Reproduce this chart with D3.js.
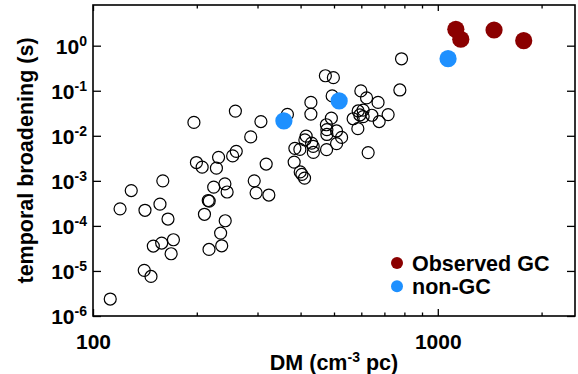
<!DOCTYPE html>
<html><head><meta charset="utf-8">
<script src="https://cdn.jsdelivr.net/npm/d3@7"></script>
<style>
body{margin:0;background:#fff}
svg text{font-family:"Liberation Sans",Arial,Helvetica,sans-serif;font-weight:bold;fill:#000}
</style>
</head><body>
<svg id="chart" width="578" height="374"></svg>
<script>
// ---- data ----
const pulsarDM = [112.2,140.8,147.3,149.6,158.2,171.1,168.5,165.0,156.4,141.5,119.8,129.1,159.4,199.5,207.3,231.3,228.0,254.1,260.3,223.9,241.3,244.9,215.9,217.3,210.5,241.8,234.5,236.2,217.0,293.5,297.2,323.6,317.9,286.7,196.2,258.8,306.9,366.3,385.0,398.1,415.2,411.6,430.5,435.1,435.6,383.2,399.0,403.5,410.7,428.5,428.5,472.0,497.9,493.9,491.3,475.2,476.8,476.8,508.6,526.0,508.6,475.8,598.2,621.4,671.0,717.7,676.0,643.8,587.5,607.4,594.1,568.2,607.4,586.3,628.1,776.2,784.9];
const pulsarTau = [2.38e-6,1.03e-5,7.55e-6,3.57e-5,4.16e-5,4.92e-5,2.41e-5,1.42e-4,3.04e-4,2.22e-4,2.39e-4,6.09e-4,1.0e-3,2.55e-3,2.01e-3,3.32e-3,1.91e-3,3.58e-3,4.51e-3,7.25e-4,8.58e-4,5.65e-4,3.66e-4,3.55e-4,1.81e-4,1.30e-4,6.92e-5,3.62e-5,3.0e-5,1.0e-3,5.42e-4,4.84e-4,2.36e-3,9.46e-3,1.98e-2,3.53e-2,2.07e-2,2.98e-2,5.26e-3,4.99e-3,9.8e-3,8.11e-3,6.85e-3,5.82e-3,4.28e-3,2.61e-3,1.58e-3,1.39e-3,1.15e-3,5.5e-2,3.03e-2,0.215,0.195,7.67e-2,2.46e-2,1.76e-2,1.37e-2,1.07e-2,1.28e-2,9.22e-3,6.68e-3,4.92e-3,9.9e-2,6.92e-2,5.5e-2,2.95e-2,2.07e-2,2.86e-2,3.56e-2,3.7e-2,2.9e-2,2.39e-2,2.67e-2,1.44e-2,4.24e-3,0.104,0.512];
const nonGcDM = [357.8,517.5,1071];
const nonGcTau = [2.14e-2,5.94e-2,0.515];
const gcDM = [1128,1166,1456,1775];
const gcTau = [2.31,1.39,2.23,1.29];
const xMajorTicks = [100,1000];
const xMinorTicks = [200,300,400,500,600,700,800,900,2000];
const yTicks = [1e-6,1e-5,1e-4,1e-3,1e-2,1e-1,1];
const yExponents = ["-6","-5","-4","-3","-2","-1","0"];
const legendLabels = ["Observed GC","non-GC"];
const legendColors = ["#8b0000","#1e90ff"];
const xTitle = "DM (cm";
const xTitleSup = "-3";
const xTitleEnd = " pc)";
const yTitle = "temporal broadening (s)";

// ---- layout ----
const L = 93, R = 575, T = 5, B = 316;
const svg = d3.select("#chart");
const x = d3.scaleLog().domain([100,2500]).range([L,R]);
const y = d3.scaleLog().domain([1e-6,8]).range([B,T]);

function styleAxis(g){
  g.select(".domain").remove();
  g.selectAll(".tick line").attr("stroke","#000").attr("stroke-width",1.3);
}
// x axes (ticks pointing inward)
svg.append("g").attr("transform",`translate(0,${B})`)
  .call(d3.axisBottom(x).tickValues(xMajorTicks).tickSize(-7).tickPadding(18).tickFormat(d3.format("d")))
  .call(styleAxis)
  .call(g=>g.selectAll("text").style("font-size","21px").attr("dy","0.71em"));
svg.append("g").attr("transform",`translate(0,${B})`)
  .call(d3.axisBottom(x).tickValues(xMinorTicks).tickSize(-3.5).tickFormat(""))
  .call(styleAxis);
svg.append("g").attr("transform",`translate(0,${T})`)
  .call(d3.axisTop(x).tickValues(xMajorTicks).tickSize(-6).tickFormat(""))
  .call(styleAxis);
svg.append("g").attr("transform",`translate(0,${T})`)
  .call(d3.axisTop(x).tickValues(xMinorTicks).tickSize(-3.5).tickFormat(""))
  .call(styleAxis);
// y axes
const yl = svg.append("g").attr("transform",`translate(${L},0)`)
  .call(d3.axisLeft(y).tickValues(yTicks).tickSize(-8).tickPadding(6).tickFormat(""))
  .call(styleAxis);
yl.selectAll(".tick text").each(function(d,i){
  const t = d3.select(this).attr("dy",null).attr("dominant-baseline",null)
    .attr("x",-6).attr("y",7.5).attr("text-anchor","end").style("font-size","21px");
  t.text(null);
  t.append("tspan").text("10");
  t.append("tspan").attr("dy",-8).style("font-size","14px").text(yExponents[i]);
});
svg.append("g").attr("transform",`translate(${R},0)`)
  .call(d3.axisRight(y).tickValues(yTicks).tickSize(-8).tickFormat(""))
  .call(styleAxis);

// frame
svg.append("rect").attr("x",L).attr("y",T).attr("width",R-L).attr("height",B-T)
  .attr("fill","none").attr("stroke","#000").attr("stroke-width",1.6);

// points
svg.append("g").selectAll("circle").data(pulsarDM).join("circle")
  .attr("cx",(d)=>x(d)).attr("cy",(d,i)=>y(pulsarTau[i])).attr("r",6)
  .attr("fill","none").attr("stroke","#000").attr("stroke-width",1.2);
svg.append("g").selectAll("circle").data(nonGcDM).join("circle")
  .attr("cx",(d)=>x(d)).attr("cy",(d,i)=>y(nonGcTau[i])).attr("r",8.6)
  .attr("fill",legendColors[1]);
svg.append("g").selectAll("circle").data(gcDM).join("circle")
  .attr("cx",(d)=>x(d)).attr("cy",(d,i)=>y(gcTau[i])).attr("r",8.6)
  .attr("fill",legendColors[0]);

// legend
const lg = svg.append("g").attr("transform","translate(397,263)");
legendLabels.forEach((lab,i)=>{
  const row = lg.append("g").attr("transform",`translate(0,${i*23.3})`);
  row.append("circle").attr("r",6).attr("fill",legendColors[i]);
  row.append("text").attr("x",15).attr("y",7.5).style("font-size","21.5px").text(lab);
});

// axis titles
const xt = svg.append("text").attr("x",(L+R)/2).attr("y",370).attr("text-anchor","middle").style("font-size","21.5px");
xt.append("tspan").text(xTitle);
xt.append("tspan").attr("dy",-8).style("font-size","14px").text(xTitleSup);
xt.append("tspan").attr("dy",8).text(xTitleEnd);
svg.append("text").attr("transform",`translate(33,${(T+B)/2}) rotate(-90)`)
  .attr("text-anchor","middle").style("font-size","21.5px").text(yTitle);
</script>
</body></html>
